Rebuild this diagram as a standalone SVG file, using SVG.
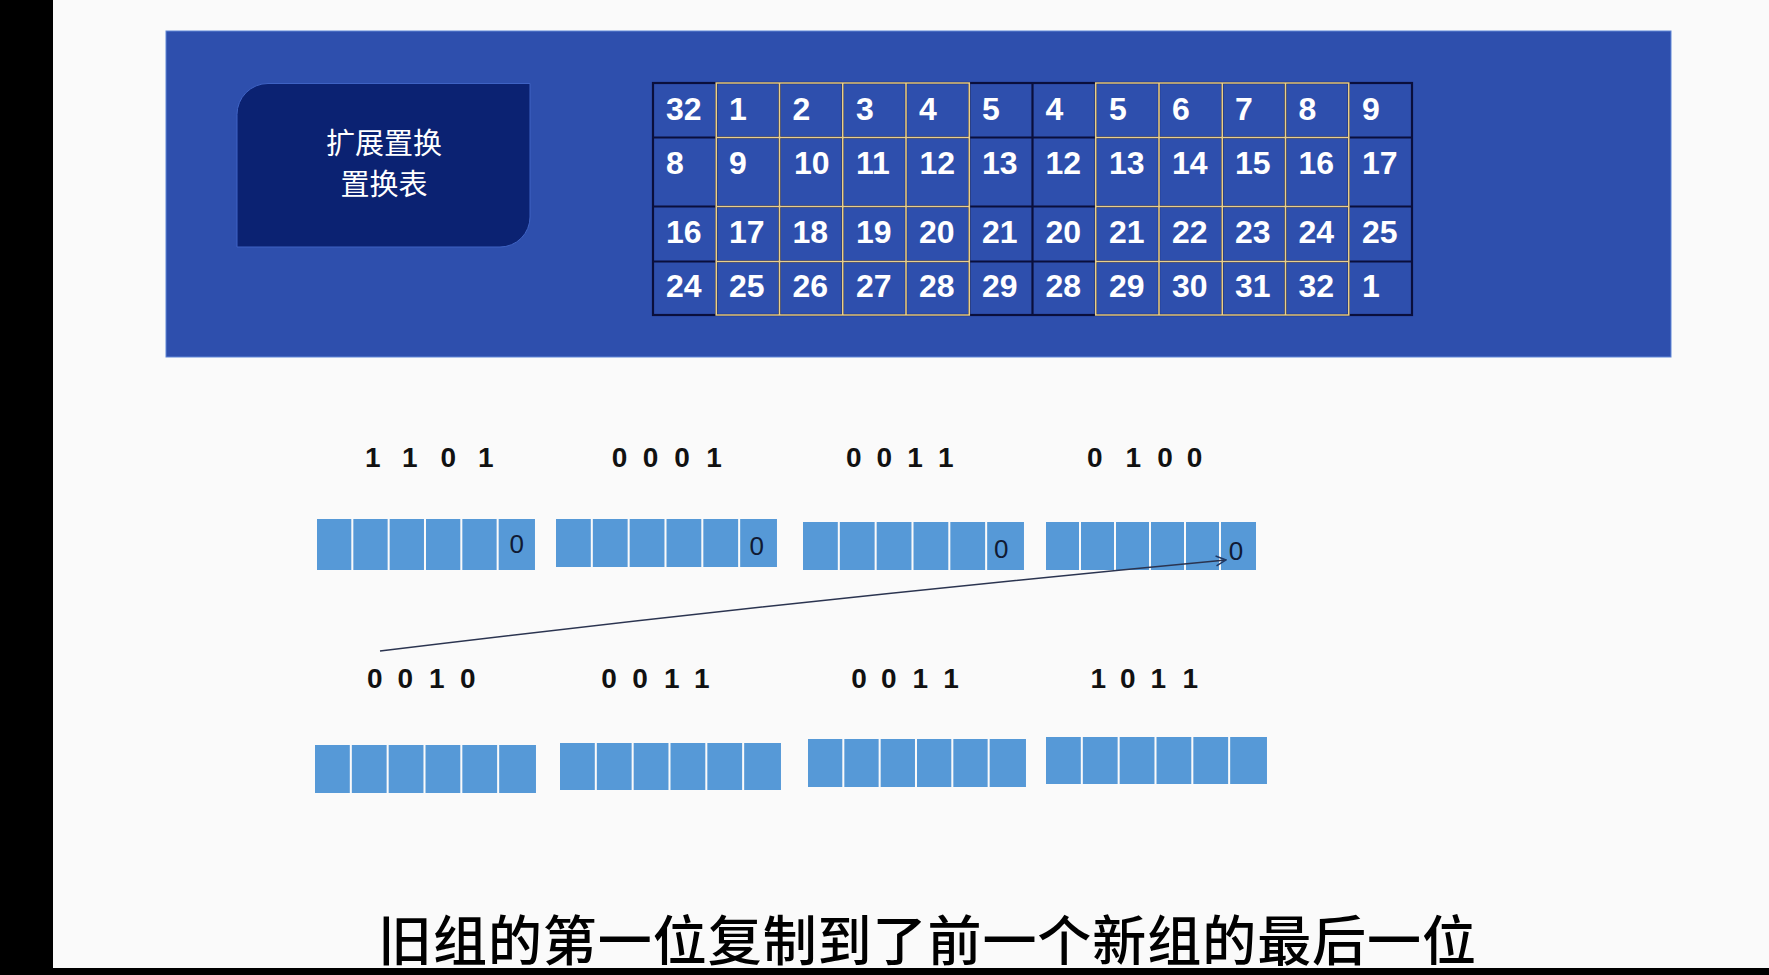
<svg xmlns="http://www.w3.org/2000/svg" width="1769" height="975" viewBox="0 0 1769 975">
<style>
.bg{fill:#fafafa}
.band{fill:#000}
.banner{fill:#2e4fad;stroke:#5f86d6;stroke-width:1}
.dark{fill:#0b2272;stroke:#3f63c4;stroke-width:1}
.title{font-family:"Noto Sans CJK SC",sans-serif;font-size:29px;fill:#fff;text-anchor:middle}
.cell{fill:none;stroke:#0a0f3c;stroke-width:2.2}
.hl{fill:none;stroke:#e9cf8a;stroke-width:1.6}
.num{font-family:"Liberation Sans",Arial,sans-serif;font-weight:bold;font-size:32px;fill:#fff}
.bit{fill:#5699d7}
.lab{font-family:"Liberation Sans",Arial,sans-serif;font-weight:bold;font-size:28px;fill:#111;text-anchor:middle}
.zero{font-family:"Liberation Sans",Arial,sans-serif;font-size:26px;fill:#101a33;text-anchor:middle}
.cap{font-family:"Noto Sans CJK SC",sans-serif;font-weight:500;font-size:54px;fill:#000}
.conn{fill:none;stroke:#2b3450;stroke-width:1.5}
</style>
<defs>
<marker id="arr" viewBox="0 0 12 12" refX="11" refY="6" markerWidth="12" markerHeight="12" markerUnits="userSpaceOnUse" orient="auto">
<path d="M1,1 L11,6 L1,11" fill="none" stroke="#1f3864" stroke-width="1.5"/>
</marker>
</defs>
<rect class="bg" x="0" y="0" width="1769" height="975"/>
<rect class="band" x="0" y="0" width="53" height="975"/>
<rect class="band" x="0" y="968" width="1769" height="7"/>

<g id="banner">
<rect class="banner" x="166" y="31" width="1505" height="326"/>
</g>

<g id="title-box">
<path class="dark" d="M268,83.5 H530 V217 A30,30 0 0 1 500,247 H237 V114.5 A31,31 0 0 1 268,83.5 Z"/>
<text class="title" x="384" y="154">扩展置换</text>
<text class="title" x="384" y="195">置换表</text>
</g>

<g id="table">
<g id="grid">
<rect class="cell" x="653" y="83" width="759" height="232"/>
<path class="cell" d="M653,137.5 H1412 M653,206.5 H1412 M653,261.5 H1412 M716.25,83 V315 M779.5,83 V315 M842.75,83 V315 M906,83 V315 M969.25,83 V315 M1032.5,83 V315 M1095.75,83 V315 M1159,83 V315 M1222.25,83 V315 M1285.5,83 V315 M1348.75,83 V315"/>
<path class="hl" d="M716.25,83 H969.25 V315 H716.25 Z M716.25,137.5 H969.25 M716.25,206.5 H969.25 M716.25,261.5 H969.25 M779.5,83 V315 M842.75,83 V315 M906,83 V315"/>
<path class="hl" d="M1095.75,83 H1348.75 V315 H1095.75 Z M1095.75,137.5 H1348.75 M1095.75,206.5 H1348.75 M1095.75,261.5 H1348.75 M1159,83 V315 M1222.25,83 V315 M1285.5,83 V315"/>
</g>
<g id="row1" class="num">
<text x="666" y="120">32</text><text x="729" y="120">1</text><text x="792.5" y="120">2</text><text x="856" y="120">3</text><text x="919" y="120">4</text><text x="982" y="120">5</text><text x="1045.5" y="120">4</text><text x="1109" y="120">5</text><text x="1172" y="120">6</text><text x="1235" y="120">7</text><text x="1298.5" y="120">8</text><text x="1362" y="120">9</text>
</g>
<g id="row2" class="num">
<text x="666" y="174">8</text><text x="729" y="174">9</text><text x="794" y="174">10</text><text x="856" y="174">11</text><text x="919.5" y="174">12</text><text x="982" y="174">13</text><text x="1045.5" y="174">12</text><text x="1109" y="174">13</text><text x="1172" y="174">14</text><text x="1235" y="174">15</text><text x="1298.5" y="174">16</text><text x="1362" y="174">17</text>
</g>
<g id="row3" class="num">
<text x="666" y="243">16</text><text x="729" y="243">17</text><text x="792.5" y="243">18</text><text x="856" y="243">19</text><text x="919" y="243">20</text><text x="982" y="243">21</text><text x="1045.5" y="243">20</text><text x="1109" y="243">21</text><text x="1172" y="243">22</text><text x="1235" y="243">23</text><text x="1298.5" y="243">24</text><text x="1362" y="243">25</text>
</g>
<g id="row4" class="num">
<text x="666" y="297">24</text><text x="729" y="297">25</text><text x="792.5" y="297">26</text><text x="856" y="297">27</text><text x="919" y="297">28</text><text x="982" y="297">29</text><text x="1045.5" y="297">28</text><text x="1109" y="297">29</text><text x="1172" y="297">30</text><text x="1235" y="297">31</text><text x="1298.5" y="297">32</text><text x="1362" y="297">1</text>
</g>
</g>

<g id="labels-top">
<text class="lab" x="372.7 391 409.8 429 448.2 467 485.7" y="467">1 1 0 1</text>
<text class="lab" x="619.5 635 650.6 666 682 698 714" y="467">0 0 0 1</text>
<text class="lab" x="853.7 869 884.3 900 915 930 945.8" y="467">0 0 1 1</text>
<text class="lab" x="1094.7 1114 1133.3 1149 1165 1180 1194.5" y="467">0 1 0 0</text>
</g>

<g id="old-group-1">
<rect class="bit" x="317" y="519" width="34.3" height="51"/><rect class="bit" x="353.33" y="519" width="34.3" height="51"/><rect class="bit" x="389.67" y="519" width="34.3" height="51"/><rect class="bit" x="426" y="519" width="34.3" height="51"/><rect class="bit" x="462.33" y="519" width="34.3" height="51"/><rect class="bit" x="498.67" y="519" width="36.3" height="51"/>
<text class="zero" x="516.7" y="553">0</text>
</g>
<g id="old-group-2">
<rect class="bit" x="556" y="519" width="34.8" height="48"/><rect class="bit" x="592.83" y="519" width="34.8" height="48"/><rect class="bit" x="629.67" y="519" width="34.8" height="48"/><rect class="bit" x="666.5" y="519" width="34.8" height="48"/><rect class="bit" x="703.33" y="519" width="34.8" height="48"/><rect class="bit" x="740.17" y="519" width="36.8" height="48"/>
<text class="zero" x="756.7" y="555">0</text>
</g>
<g id="old-group-3">
<rect class="bit" x="803" y="522" width="34.8" height="48"/><rect class="bit" x="839.83" y="522" width="34.8" height="48"/><rect class="bit" x="876.67" y="522" width="34.8" height="48"/><rect class="bit" x="913.5" y="522" width="34.8" height="48"/><rect class="bit" x="950.33" y="522" width="34.8" height="48"/><rect class="bit" x="987.17" y="522" width="36.8" height="48"/>
<text class="zero" x="1001.3" y="558">0</text>
</g>
<g id="old-group-4">
<rect class="bit" x="1046" y="522" width="33" height="48"/><rect class="bit" x="1081" y="522" width="33" height="48"/><rect class="bit" x="1116" y="522" width="33" height="48"/><rect class="bit" x="1151" y="522" width="33" height="48"/><rect class="bit" x="1186" y="522" width="33" height="48"/><rect class="bit" x="1221" y="522" width="35" height="48"/>
<text class="zero" x="1236" y="560">0</text>
</g>

<g id="labels-bottom">
<text class="lab" x="374.8 390 405.3 421 436.7 452 467.8" y="688">0 0 1 0</text>
<text class="lab" x="609 624 640 656 671.7 687 701.7" y="688">0 0 1 1</text>
<text class="lab" x="859 874 888.8 904 920.3 936 951" y="688">0 0 1 1</text>
<text class="lab" x="1098.3 1113 1127.8 1143 1158.3 1174 1190.3" y="688">1 0 1 1</text>
</g>

<g id="new-group-1">
<rect class="bit" x="315" y="745" width="34.8" height="48"/><rect class="bit" x="351.83" y="745" width="34.8" height="48"/><rect class="bit" x="388.67" y="745" width="34.8" height="48"/><rect class="bit" x="425.5" y="745" width="34.8" height="48"/><rect class="bit" x="462.33" y="745" width="34.8" height="48"/><rect class="bit" x="499.17" y="745" width="36.8" height="48"/>
</g>
<g id="new-group-2">
<rect class="bit" x="560" y="743" width="34.8" height="47"/><rect class="bit" x="596.83" y="743" width="34.8" height="47"/><rect class="bit" x="633.67" y="743" width="34.8" height="47"/><rect class="bit" x="670.5" y="743" width="34.8" height="47"/><rect class="bit" x="707.33" y="743" width="34.8" height="47"/><rect class="bit" x="744.17" y="743" width="36.8" height="47"/>
</g>
<g id="new-group-3">
<rect class="bit" x="808" y="739" width="34.3" height="48"/><rect class="bit" x="844.33" y="739" width="34.3" height="48"/><rect class="bit" x="880.67" y="739" width="34.3" height="48"/><rect class="bit" x="917" y="739" width="34.3" height="48"/><rect class="bit" x="953.33" y="739" width="34.3" height="48"/><rect class="bit" x="989.67" y="739" width="36.3" height="48"/>
</g>
<g id="new-group-4">
<rect class="bit" x="1046" y="737" width="34.8" height="47"/><rect class="bit" x="1082.83" y="737" width="34.8" height="47"/><rect class="bit" x="1119.67" y="737" width="34.8" height="47"/><rect class="bit" x="1156.5" y="737" width="34.8" height="47"/><rect class="bit" x="1193.33" y="737" width="34.8" height="47"/><rect class="bit" x="1230.17" y="737" width="36.8" height="47"/>
</g>

<g id="connectors">
<path class="conn" d="M380,651 Q800,600 1226,560" marker-end="url(#arr)"/>
</g>

<g id="caption">
<text class="cap" x="378" y="961" textLength="1098" lengthAdjust="spacing">旧组的第一位复制到了前一个新组的最后一位</text>
</g>
</svg>
